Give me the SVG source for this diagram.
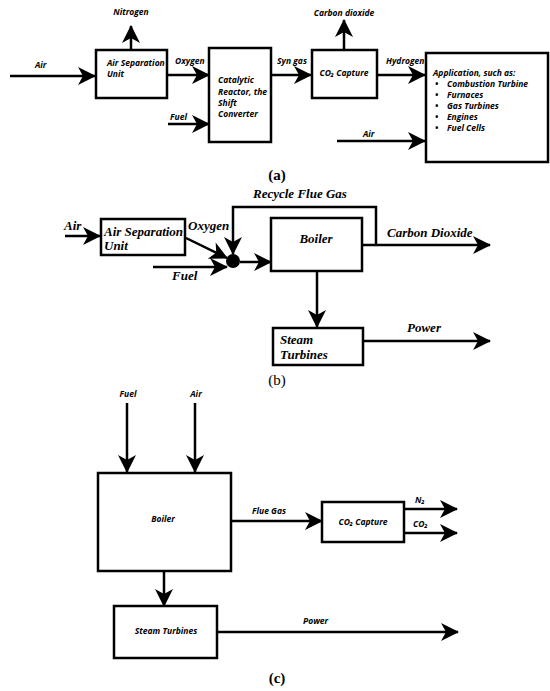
<svg xmlns="http://www.w3.org/2000/svg" width="550" height="691" viewBox="0 0 550 691">
<defs>
<marker id="ah" markerUnits="userSpaceOnUse" markerWidth="18" markerHeight="18" refX="17" refY="9" orient="auto" overflow="visible">
<path d="M0,0 L18,9 L0,18 L5,9 Z" fill="#000"/>
</marker>
</defs>
<style>
.box{fill:#fff;stroke:#000;stroke-width:2.5}
.ln{fill:none;stroke:#000;stroke-width:2.5;marker-end:url(#ah)}
.s{font-family:"Open Sans","Noto Sans",sans-serif;font-weight:bold;font-style:italic;font-size:8.5px;fill:#000}
.t{font-family:"Liberation Serif",serif;font-weight:bold;font-style:italic;font-size:13px;fill:#000}
.cap{font-family:"Liberation Serif",serif;font-size:15px;fill:#000;text-anchor:middle}
</style>
<rect width="550" height="691" fill="#fff"/>
<g id="connectors">
<line class="ln" x1="10" y1="76" x2="95" y2="76"/>
<line class="ln" x1="131" y1="50" x2="131" y2="26"/>
<line class="ln" x1="167" y1="75" x2="209" y2="75"/>
<line class="ln" x1="168" y1="124" x2="209" y2="124"/>
<line class="ln" x1="271" y1="75" x2="311" y2="75"/>
<line class="ln" x1="344" y1="50" x2="344" y2="20"/>
<line class="ln" x1="377" y1="75" x2="425" y2="75"/>
<line class="ln" x1="337" y1="141" x2="425" y2="141"/>
<line class="ln" x1="65" y1="236" x2="100" y2="236"/>
<line class="ln" x1="186" y1="238" x2="227" y2="258"/>
<line class="ln" x1="153" y1="267" x2="227" y2="267"/>
<polyline class="ln" points="376,245 376,207 233,207 233,254"/>
<line class="ln" x1="240" y1="262" x2="271" y2="262"/>
<line class="ln" x1="362" y1="245" x2="490" y2="245"/>
<line class="ln" x1="317" y1="271" x2="317" y2="327"/>
<line class="ln" x1="363" y1="341" x2="490" y2="341"/>
<line class="ln" x1="127" y1="403" x2="127" y2="472"/>
<line class="ln" x1="195" y1="403" x2="195" y2="472"/>
<line class="ln" x1="231" y1="521" x2="322" y2="521"/>
<line class="ln" x1="404" y1="509" x2="457" y2="509"/>
<line class="ln" x1="404" y1="533" x2="457" y2="533"/>
<line class="ln" x1="164" y1="571" x2="164" y2="606"/>
<line class="ln" x1="217" y1="632" x2="458" y2="632"/>
</g>
<g id="a-labels">
<text class="s" x="35" y="68">Air</text>
<text class="s" x="131" y="15" text-anchor="middle">Nitrogen</text>
<text class="s" x="175" y="64">Oxygen</text>
<text class="s" x="170" y="120">Fuel</text>
<text class="s" x="277" y="64">Syn gas</text>
<text class="s" x="344" y="16" text-anchor="middle">Carbon dioxide</text>
<text class="s" x="386" y="64">Hydrogen</text>
<text class="s" x="363" y="137">Air</text>
<text class="cap" x="277" y="180" font-family="Open Sans" font-weight="bold" font-size="12.5">(a)</text>
</g>
<g id="a-asu"><rect class="box" x="96" y="50" width="71" height="48"/>
<text class="s" x="107" y="66">Air Separation</text><text class="s" x="107" y="77">Unit</text></g>
<g id="a-reactor"><rect class="box" x="209" y="48" width="62" height="94"/>
<text class="s" x="218" y="83">Catalytic</text><text class="s" x="218" y="95">Reactor, the</text><text class="s" x="218" y="106">Shift</text><text class="s" x="218" y="117">Converter</text></g>
<g id="a-capture"><rect class="box" x="312" y="50" width="65" height="48"/>
<text class="s" x="344" y="76" text-anchor="middle">CO₂ Capture</text></g>
<g id="a-app"><rect class="box" x="426" y="53" width="122" height="109"/>
<text class="s" x="433" y="76">Application, such as:</text>
<text class="s" x="435" y="87">•</text><text class="s" x="447" y="87">Combustion Turbine</text>
<text class="s" x="435" y="98">•</text><text class="s" x="447" y="98">Furnaces</text>
<text class="s" x="435" y="109">•</text><text class="s" x="447" y="109">Gas Turbines</text>
<text class="s" x="435" y="120">•</text><text class="s" x="447" y="120">Engines</text>
<text class="s" x="435" y="131">•</text><text class="s" x="447" y="131">Fuel Cells</text></g>
<g id="b-labels">
<text class="t" x="253" y="198">Recycle Flue Gas</text>
<text class="t" x="64" y="230">Air</text>
<text class="t" x="188" y="230">Oxygen</text>
<text class="t" x="172" y="280">Fuel</text>
<text class="t" x="387" y="237">Carbon Dioxide</text>
<text class="t" x="407" y="332">Power</text>
<text class="cap" x="277" y="385">(b)</text>
</g>
<g id="b-asu"><rect class="box" x="101" y="219" width="84" height="36" stroke-width="3"/>
<text class="t" x="104" y="236">Air Separation</text><text class="t" x="104" y="250">Unit</text></g>
<g id="b-mixer"><circle cx="233" cy="261" r="7" fill="#000"/></g>
<g id="b-boiler"><rect class="box" x="271" y="218" width="91" height="53" stroke-width="3"/>
<text class="t" x="316" y="243" text-anchor="middle">Boiler</text></g>
<g id="b-turbines"><rect class="box" x="273" y="328" width="90" height="37" stroke-width="3"/>
<text class="t" x="280" y="344">Steam</text><text class="t" x="280" y="359">Turbines</text></g>
<g id="c-labels">
<text class="s" x="128" y="397" text-anchor="middle" font-size="8">Fuel</text>
<text class="s" x="196" y="397" text-anchor="middle" font-size="8">Air</text>
<text class="s" x="252" y="514" font-size="9">Flue Gas</text>
<text class="s" x="415" y="503">N₂</text>
<text class="s" x="413" y="527">CO₂</text>
<text class="s" x="303" y="624" font-size="9">Power</text>
<text class="cap" x="277" y="683" font-weight="bold">(c)</text>
</g>
<g id="c-boiler"><rect class="box" x="98" y="473" width="133" height="98"/>
<text class="s" x="163" y="522" text-anchor="middle" font-size="9">Boiler</text></g>
<g id="c-capture"><rect class="box" x="322" y="502" width="82" height="40"/>
<text class="s" x="363" y="525" text-anchor="middle">CO₂ Capture</text></g>
<g id="c-turbines"><rect class="box" x="114" y="606" width="103" height="52"/>
<text class="s" x="166" y="634" text-anchor="middle" font-size="9">Steam Turbines</text></g>
</svg>
